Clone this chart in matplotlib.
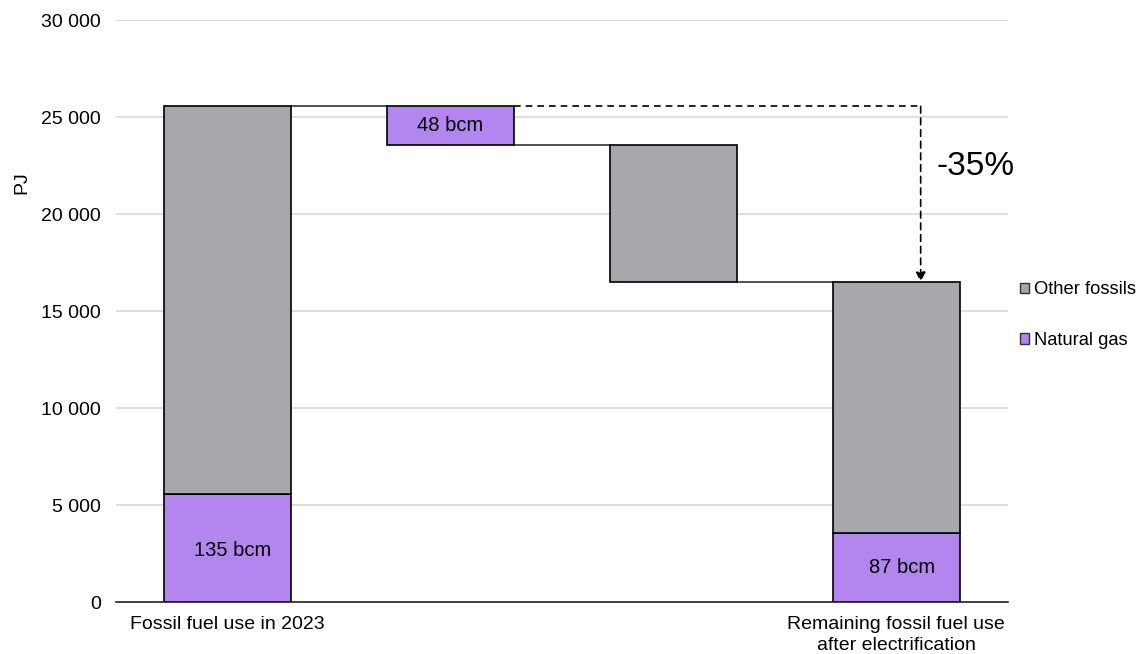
import matplotlib.pyplot as plt
from matplotlib.patches import Patch

plt.rcParams['font.family'] = ['Liberation Sans', 'DejaVu Sans']

# dados do gráfico (PJ)
categorias = ['Fossil fuel use in 2023', '', '', 'Remaining fossil fuel use\nafter electrification']
gas_2023 = 5570
outros_2023 = 19980
reducao_gas = 1990
reducao_outros = 7060
gas_restante = 3580
outros_restante = 12920
rotulos = ['135 bcm', '48 bcm', '87 bcm']
variacao = '-35%'

cinza = '#a7a8ab'
roxo = '#b286ee'
largura = 0.57

total_2023 = gas_2023 + outros_2023
apos_gas = total_2023 - reducao_gas
total_restante = gas_restante + outros_restante

fig = plt.figure(figsize=(11.45, 6.54), dpi=100)
ax = fig.add_axes([0.1013, 0.0795, 0.7787, 0.8899])

# barras empilhadas de início e fim
ax.bar(0, gas_2023, largura, color=roxo, edgecolor='black', linewidth=1.2, zorder=3)
ax.bar(0, outros_2023, largura, bottom=gas_2023, color=cinza, edgecolor='black', linewidth=1.2, zorder=3)
ax.bar(3, gas_restante, largura, color=roxo, edgecolor='black', linewidth=1.2, zorder=3)
ax.bar(3, outros_restante, largura, bottom=gas_restante, color=cinza, edgecolor='black', linewidth=1.2, zorder=3)

# degraus do waterfall
ax.bar(1, reducao_gas, largura, bottom=apos_gas, color=roxo, edgecolor='black', linewidth=1.2, zorder=3)
ax.bar(2, reducao_outros, largura, bottom=total_restante, color=cinza, edgecolor='black', linewidth=1.2, zorder=3)

# linhas de ligação
m = largura / 2
ax.plot([0 + m, 1 - m], [total_2023, total_2023], color='#333333', lw=1.2, zorder=2)
ax.plot([1 + m, 2 - m], [apos_gas, apos_gas], color='#333333', lw=1.2, zorder=2)
ax.plot([2 + m, 3 - m], [total_restante, total_restante], color='#333333', lw=1.2, zorder=2)

# seta tracejada da variação
xs = 3.11
ax.plot([1 + m, xs], [total_2023, total_2023], color='black', lw=1.2, ls=(0, (4, 3)), zorder=2)
ax.annotate('', xy=(xs, total_restante), xytext=(xs, total_2023),
            arrowprops=dict(arrowstyle='-|>', color='black', lw=1.2, ls=(0, (4, 3)),
                            mutation_scale=14, shrinkA=0, shrinkB=0), zorder=4)
ax.text(3.357, 22450, variacao, fontsize=24, ha='center', va='center')

# rótulos dentro das barras
ax.text(0.025, 2630, rotulos[0], fontsize=14.5, ha='center', va='center', zorder=5)
ax.text(1, apos_gas + reducao_gas / 2, rotulos[1], fontsize=14.5, ha='center', va='center', zorder=5)
ax.text(3.025, 1800, rotulos[2], fontsize=14.5, ha='center', va='center', zorder=5)

ax.set_xlim(-0.5, 3.5)
ax.set_ylim(0, 30000)
ax.set_yticks(range(0, 30001, 5000))
ax.set_yticklabels(['{:,}'.format(v).replace(',', ' ') for v in range(0, 30001, 5000)], fontsize=14)
ax.set_xticks(range(4))
ax.set_xticklabels(categorias, fontsize=14)
for t in ax.get_xticklabels():
    t.set_linespacing(1.35)
ax.tick_params(length=0)
ax.tick_params(axis='y', pad=11)
ax.tick_params(axis='x', pad=10)
ax.grid(axis='y', color='#d9d9d9', lw=1.2, zorder=0)
for lado in ['left', 'right', 'top']:
    ax.spines[lado].set_visible(False)
ax.spines['bottom'].set_color('#222222')
ax.spines['bottom'].set_linewidth(1.2)
ax.spines['bottom'].set_zorder(4)
ax.set_ylabel('PJ', fontsize=14)
ax.yaxis.set_label_coords(-0.096, 0.72)

legenda = [Patch(facecolor=cinza, edgecolor='#333333', label='Other fossils'),
           Patch(facecolor=roxo, edgecolor='#333333', label='Natural gas')]
fig.legend(handles=legenda, loc='center left', bbox_to_anchor=(0.876, 0.518), frameon=False,
           fontsize=13.2, handlelength=0.5, handleheight=0.5, handletextpad=0.3, labelspacing=1.85)

fig.savefig('out.png', dpi=100)
